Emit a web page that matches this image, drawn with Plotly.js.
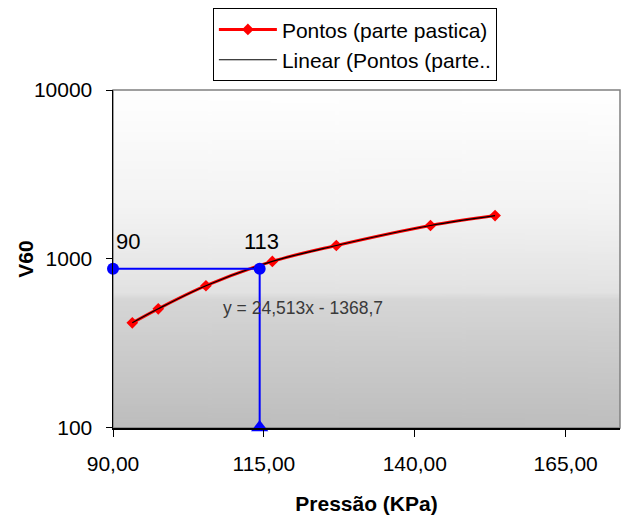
<!DOCTYPE html>
<html>
<head>
<meta charset="utf-8">
<script src="https://cdn.plot.ly/plotly-3.0.1.min.js"></script>
<style>html,body{margin:0;padding:0;background:#fff;}#chart{width:629px;height:521px;}</style>
</head>
<body>
<div id="chart"></div>
<script>
// Data
const pressao = [93.2, 97.5, 105.4, 116.4, 127.0, 142.6, 153.3];
const v60 = [417, 505, 692, 964, 1198, 1574, 1803];
const guideX = [90, 114.3, 114.3];
const guideY = [873, 873, 100];
const guideLabels = ["90", "113"];
const xTickVals = [90, 115, 140, 165];
const xTickText = ["90,00", "115,00", "140,00", "165,00"];
const yTickVals = [100, 1000, 10000];
const yTickText = ["100", "1000", "10000"];
const seriesNames = ["Pontos (parte pastica)", "Linear (Pontos (parte.."];
const equationText = "y = 24,513x - 1368,7";
const xTitle = "Pressão (KPa)";
const yTitle = "V60";

// gradient background for the plot area
const cv = document.createElement('canvas');
cv.width = 8; cv.height = 256;
const ctx = cv.getContext('2d');
const g = ctx.createLinearGradient(0, 0, 0, 256);
g.addColorStop(0, '#ffffff');
g.addColorStop(0.35, '#f3f3f3');
g.addColorStop(0.6, '#e2e2e2');
g.addColorStop(0.62, '#d6d6d6');
g.addColorStop(1, '#bdbdbd');
ctx.fillStyle = g;
ctx.fillRect(0, 0, 8, 256);
const bgURL = cv.toDataURL();

const font = "Liberation Sans, Arial, sans-serif";

const traces = [
  {
    x: pressao, y: v60, name: seriesNames[0], type: 'scatter', mode: 'lines+markers',
    line: {color: '#ff0000', width: 3, shape: 'spline'},
    marker: {symbol: 'diamond', size: 9, color: '#ff0000'}
  },
  {
    x: pressao, y: v60, name: seriesNames[1], type: 'scatter', mode: 'lines',
    line: {color: '#000000', width: 1.2, shape: 'spline'}
  },
  {
    x: guideX, y: guideY, type: 'scatter', mode: 'lines', showlegend: false,
    line: {color: '#0000ff', width: 2}
  },
  {
    x: guideX.slice(0, 2), y: guideY.slice(0, 2), type: 'scatter', mode: 'markers', showlegend: false,
    cliponaxis: false,
    marker: {symbol: 'circle', size: 12, color: '#0000ff'}
  },
  {
    x: guideX.slice(2), y: guideY.slice(2), type: 'scatter', mode: 'markers', showlegend: false,
    cliponaxis: false,
    marker: {symbol: 'triangle-up', size: 15, color: '#0000ff'}
  }
];

const layout = {
  width: 629, height: 521,
  margin: {l: 113, r: 9, t: 89, b: 93, pad: 0},
  paper_bgcolor: '#ffffff',
  plot_bgcolor: 'rgba(0,0,0,0)',
  font: {family: font, color: '#000', size: 20},
  showlegend: true,
  legend: {
    x: 0.197, y: 1.238, xanchor: 'left', yanchor: 'top',
    bgcolor: '#ffffff', bordercolor: '#000000', borderwidth: 1,
    font: {family: font, size: 21, color: '#000'},
    itemwidth: 58, tracegroupgap: 0
  },
  xaxis: {
    range: [90, 174], tickmode: 'array', tickvals: xTickVals, ticktext: xTickText,
    ticks: 'outside', ticklen: 7, tickcolor: '#000', tickwidth: 1, ticklabelstandoff: 9,
    showline: true, linecolor: '#000', linewidth: 1.5, showgrid: false, zeroline: false,
    tickfont: {family: font, size: 21, color: '#000'},
    title: {text: xTitle, font: {family: font, size: 21, color: '#000', weight: 'bold'}, standoff: 22}
  },
  yaxis: {
    type: 'log', range: [1.997, 4], tickmode: 'array', tickvals: yTickVals, ticktext: yTickText,
    ticks: 'outside', ticklen: 6, tickcolor: '#000', tickwidth: 1, ticklabelstandoff: 9,
    showline: true, linecolor: '#000', linewidth: 1.5, showgrid: false, zeroline: false,
    tickfont: {family: font, size: 21, color: '#000'}
  },
  images: [{
    source: bgURL, xref: 'paper', yref: 'paper', x: 0, y: 1, sizex: 1, sizey: 1,
    sizing: 'stretch', xanchor: 'left', yanchor: 'top', layer: 'below'
  }],
  shapes: [{
    type: 'rect', xref: 'paper', yref: 'paper', x0: 0, x1: 1, y0: 0, y1: 1,
    line: {color: '#808080', width: 1.5}, layer: 'below'
  }],
  annotations: [
    {x: -0.174, y: 0.5, xref: 'paper', yref: 'paper', text: '<b>' + yTitle + '</b>', textangle: -90,
     showarrow: false, xanchor: 'center', yanchor: 'middle',
     font: {family: font, size: 21, color: '#000'}},
    {x: guideX[0], y: Math.log10(guideY[0]), xref: 'x', yref: 'y', text: guideLabels[0],
     showarrow: false, xanchor: 'left', yanchor: 'middle', xshift: 1, yshift: 27,
     font: {family: font, size: 22, color: '#000'}},
    {x: guideX[1], y: Math.log10(guideY[1]), xref: 'x', yref: 'y', text: guideLabels[1],
     showarrow: false, xanchor: 'center', yanchor: 'middle', xshift: 2, yshift: 27,
     font: {family: font, size: 22, color: '#000'}},
    {x: 121.4, y: 2.71, xref: 'x', yref: 'y', text: equationText,
     showarrow: false, xanchor: 'center', yanchor: 'middle',
     font: {family: font, size: 17.5, color: '#3a3a3a'}}
  ]
};

Plotly.newPlot('chart', traces, layout, {displayModeBar: false, staticPlot: true});
</script>
</body>
</html>
